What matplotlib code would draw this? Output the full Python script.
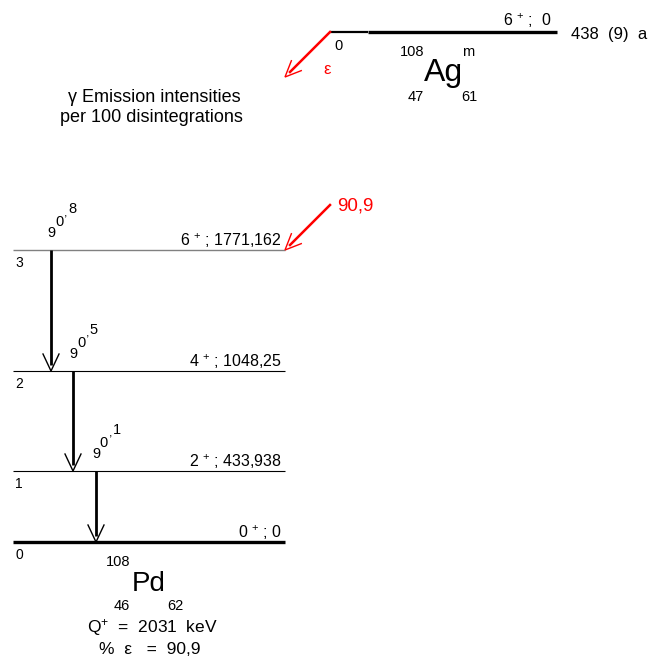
import matplotlib.pyplot as plt
import numpy as np

plt.rcParams['font.family'] = ['Liberation Sans', 'DejaVu Sans']
plt.rcParams['mathtext.fontset'] = 'custom'
plt.rcParams['mathtext.rm'] = 'Liberation Sans'
plt.rcParams['mathtext.it'] = 'Liberation Sans'

# daughter levels (108Pd), bottom to top
level_index = ['0', '1', '2', '3']
level_spin = ['0', '2', '4', '6']
level_energy = ['0', '433,938', '1048,25', '1771,162']

# gamma transitions (from level, to level) and emission intensities
gamma_from = [3, 2, 1]
gamma_to = [2, 1, 0]
gamma_intensity = ['90,8', '90,5', '90,1']

# parent 108mAg
parent_spin = '6'
parent_energy = '0'
half_life = '438  (9)  a'
feeding = '90,9'
q_value = '2031'
eps_percent = '90,9'

# layout (pixels)
level_y = [542, 471, 371, 250]
level_x0, level_x1 = 13, 285
gamma_x = [51, 73, 96]
parent_y = 32
parent_x0, parent_x1 = 330, 557

fig = plt.figure(figsize=(6.54, 6.71), dpi=100)
ax = fig.add_axes([0, 0, 1, 1])
ax.set_xlim(0, 654)
ax.set_ylim(671, 0)
ax.axis('off')


def open_head(tip, direction, color, length=17, half=8, lw=1.0):
    d = np.asarray(direction, float)
    d = d / np.hypot(*d)
    n = np.array([-d[1], d[0]])
    tip = np.asarray(tip, float)
    base = tip - d * length
    p1 = base + n * half
    p2 = base - n * half
    ax.plot([p1[0], tip[0], p2[0]], [p1[1], tip[1], p2[1]], color=color, lw=lw,
            solid_joinstyle='miter')


# daughter levels
for i, y in enumerate(level_y):
    if i == 0:
        col, lw = 'black', 2.4
    elif i == 3:
        col, lw = '#808080', 1.0
    else:
        col, lw = 'black', 0.8
    ax.plot([level_x0, level_x1], [y, y], color=col, lw=lw, solid_capstyle='butt')
    ax.text(level_x1 - 3, y - 4, r'%s $^{+}$ ; %s' % (level_spin[i], level_energy[i]),
            ha='right', va='baseline', fontsize=11.5)
    ax.text(15, y + 13, level_index[i], ha='left', va='center', fontsize=10)

# gamma transitions
for k in range(len(gamma_from)):
    x = gamma_x[k]
    y_top = level_y[gamma_from[k]]
    y_bot = level_y[gamma_to[k]]
    ax.plot([x, x], [y_top, y_bot - 6], color='black', lw=2.0, solid_capstyle='butt')
    open_head((x, y_bot), (0, 1), 'black')
    lab = gamma_intensity[k]
    offs = [(0, -17), (8, -28), (15, -37), (21, -41)]
    for ch, (dx, dy) in zip(lab, offs):
        ax.text(x + dx, y_top + dy, ch, ha='center', va='center',
                fontsize=10.5 if ch != ',' else 9)

# parent level
ax.plot([parent_x0, 368], [parent_y, parent_y], color='black', lw=1.6, solid_capstyle='butt')
ax.plot([368, parent_x1], [parent_y, parent_y], color='black', lw=2.4, solid_capstyle='butt')
ax.text(552, 26, r'%s $^{+}$ ;  %s' % (parent_spin, parent_energy), ha='right',
        va='baseline', fontsize=11.5)
ax.text(571, 34, half_life, ha='left', va='center', fontsize=12)
ax.text(334, 46, '0', ha='left', va='center', fontsize=10.5)

# electron capture arrow from parent
ax.plot([parent_x0, 290], [parent_y, 72], color='red', lw=1.8)
open_head((285, 77), (-1, 1), 'red', length=16, half=7)
ax.text(327, 70, 'ε', color='red', ha='center', va='center', fontsize=12)

ax.text(412, 52, '108', ha='center', va='center', fontsize=10.5)
ax.text(468, 52, 'm', ha='center', va='center', fontsize=10.5)
ax.text(443, 73, 'Ag', ha='center', va='center', fontsize=23)
ax.text(416, 97, '47', ha='center', va='center', fontsize=10.5)
ax.text(469, 97, '61', ha='center', va='center', fontsize=10.5)

ax.text(154, 98, 'γ Emission intensities', ha='center', va='center', fontsize=13)
ax.text(151, 117, 'per 100 disintegrations', ha='center', va='center', fontsize=13)

# feeding arrow to level 3
ax.plot([330, 290], [205, 245], color='red', lw=1.8)
open_head((285, 250), (-1, 1), 'red', length=16, half=7)
ax.text(337, 206, feeding, color='red', ha='left', va='center', fontsize=13.5)

# daughter label
ax.text(118, 562, '108', ha='center', va='center', fontsize=10.5)
ax.text(149, 584, 'Pd', ha='center', va='center', fontsize=20)
ax.text(122, 606, '46', ha='center', va='center', fontsize=10.5)
ax.text(175, 606, '62', ha='center', va='center', fontsize=10.5)
ax.text(152, 628, r'Q$^{+}$  =  %s  keV' % q_value, ha='center', va='center', fontsize=12.5)
ax.text(150, 649, '%%  ε   =  %s' % eps_percent, ha='center', va='center', fontsize=12.5)

fig.savefig('out.png', dpi=100)
